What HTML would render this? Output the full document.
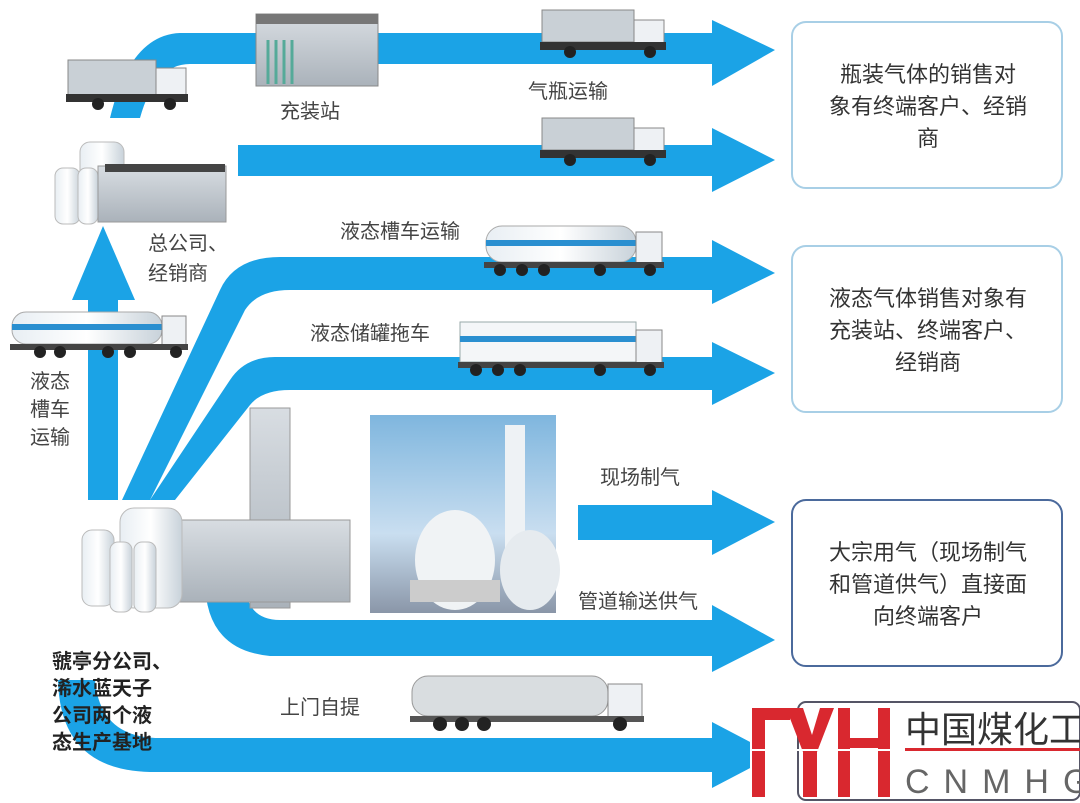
<!DOCTYPE html>
<html><head><meta charset="utf-8"><style>
body{margin:0;width:1080px;height:803px;overflow:hidden;background:#fff;font-family:"Liberation Sans","Noto Sans CJK SC",sans-serif}
svg{display:block}
text{font-family:"Liberation Sans","Noto Sans CJK SC",sans-serif}
</style></head><body>
<svg width="1080" height="803" viewBox="0 0 1080 803">
<defs>
<linearGradient id="sky" x1="0" y1="0" x2="0" y2="1"><stop offset="0" stop-color="#7fb6de"/><stop offset="0.6" stop-color="#c9def0"/><stop offset="1" stop-color="#8a96a8"/></linearGradient>
<linearGradient id="tank" x1="0" y1="0" x2="1" y2="0"><stop offset="0" stop-color="#e8eef3"/><stop offset="0.5" stop-color="#fff"/><stop offset="1" stop-color="#c8d2da"/></linearGradient>
<linearGradient id="bld" x1="0" y1="0" x2="0" y2="1"><stop offset="0" stop-color="#d8dde2"/><stop offset="1" stop-color="#aab2ba"/></linearGradient>
</defs>
<g fill="#1ba3e6">
<path d="M110 118 L140 118 Q155 64 190 64 L712 64 L712 20 L775 50 L712 86 L712 33 L180 33 Q130 35 110 118Z"/>
<path d="M238 145 L712 145 L712 128 L775 160 L712 192 L712 176 L238 176Z"/>
<path d="M122 500 L150 500 L245 310 Q258 290 290 290 L712 290 L712 240 L775 273 L712 304 L712 257 L280 257 Q235 257 220 290Z"/>
<path d="M150 500 L175 500 L250 405 Q262 390 290 390 L712 390 L712 342 L775 373 L712 405 L712 357 L275 357 Q245 357 230 380Z"/>
<path d="M88 500 L118 500 L118 300 L135 300 L103 226 L72 300 L88 300Z"/>
<path d="M578 505 L712 505 L712 490 L775 522 L712 555 L712 540 L578 540Z"/>
<path d="M205 580 L245 580 Q245 620 280 620 L712 620 L712 605 L775 640 L712 672 L712 656 L270 656 Q205 650 205 580Z"/>
<path d="M58 680 L95 680 Q100 738 160 738 L712 738 L712 722 L775 755 L712 788 L712 772 L150 772 Q60 770 58 680Z"/>
</g>
<rect x="792" y="22" width="270" height="166" rx="14" fill="#fff" stroke="#a8cfe6" stroke-width="2"/>
<rect x="792" y="246" width="270" height="166" rx="14" fill="#fff" stroke="#a8cfe6" stroke-width="2"/>
<rect x="792" y="500" width="270" height="166" rx="14" fill="#fff" stroke="#4b6a9c" stroke-width="2"/>
<g font-size="22" fill="#333" text-anchor="middle">
<text x="928" y="82">瓶装气体的销售对</text><text x="928" y="114">象有终端客户、经销</text><text x="928" y="146">商</text>
<text x="928" y="306">液态气体销售对象有</text><text x="928" y="338">充装站、终端客户、</text><text x="928" y="370">经销商</text>
<text x="928" y="560">大宗用气（现场制气</text><text x="928" y="592">和管道供气）直接面</text><text x="928" y="624">向终端客户</text>
</g>
<rect x="256" y="14" width="122" height="72" fill="url(#bld)" stroke="#888"/>
<rect x="256" y="14" width="122" height="10" fill="#777"/>
<g stroke="#5a9" stroke-width="3"><line x1="268" y1="40" x2="268" y2="84"/><line x1="276" y1="40" x2="276" y2="84"/><line x1="284" y1="40" x2="284" y2="84"/><line x1="292" y1="40" x2="292" y2="84"/></g>
<g>
<rect x="68" y="60" width="88" height="36" fill="#c9d0d6" stroke="#888"/><rect x="156" y="68" width="30" height="30" fill="#eef1f4" stroke="#888"/><rect x="66" y="94" width="122" height="8" fill="#333"/>
<circle cx="98" cy="104" r="6" fill="#222"/><circle cx="170" cy="104" r="6" fill="#222"/>
</g>
<g>
<rect x="542" y="10" width="92" height="32" fill="#c9d0d6" stroke="#888"/><rect x="634" y="20" width="30" height="28" fill="#eef1f4" stroke="#888"/><rect x="540" y="42" width="126" height="8" fill="#333"/>
<circle cx="570" cy="52" r="6" fill="#222"/><circle cx="650" cy="52" r="6" fill="#222"/>
</g>
<g>
<rect x="542" y="118" width="92" height="32" fill="#c9d0d6" stroke="#888"/><rect x="634" y="128" width="30" height="28" fill="#eef1f4" stroke="#888"/><rect x="540" y="150" width="126" height="8" fill="#333"/>
<circle cx="570" cy="160" r="6" fill="#222"/><circle cx="650" cy="160" r="6" fill="#222"/>
</g>
<rect x="80" y="142" width="44" height="40" rx="10" fill="url(#tank)" stroke="#bbb"/>
<rect x="55" y="168" width="25" height="56" rx="8" fill="url(#tank)" stroke="#bbb"/><rect x="78" y="168" width="20" height="56" rx="8" fill="url(#tank)" stroke="#bbb"/>
<rect x="98" y="166" width="128" height="56" fill="url(#bld)" stroke="#999"/><rect x="105" y="164" width="120" height="8" fill="#444"/>
<g>
<rect x="12" y="312" width="150" height="32" rx="14" fill="url(#tank)" stroke="#aaa"/><rect x="12" y="324" width="150" height="6" fill="#2a8fd0"/>
<rect x="162" y="316" width="24" height="30" fill="#eef1f4" stroke="#888"/><rect x="10" y="344" width="178" height="6" fill="#444"/>
<circle cx="40" cy="352" r="6" fill="#222"/><circle cx="60" cy="352" r="6" fill="#222"/><circle cx="108" cy="352" r="6" fill="#222"/><circle cx="130" cy="352" r="6" fill="#222"/><circle cx="176" cy="352" r="6" fill="#222"/>
</g>
<g>
<rect x="486" y="226" width="150" height="36" rx="16" fill="url(#tank)" stroke="#aaa"/><rect x="486" y="240" width="150" height="6" fill="#2a8fd0"/>
<rect x="636" y="232" width="26" height="34" fill="#eef1f4" stroke="#888"/><rect x="484" y="262" width="180" height="6" fill="#444"/>
<circle cx="500" cy="270" r="6" fill="#222"/><circle cx="522" cy="270" r="6" fill="#222"/><circle cx="544" cy="270" r="6" fill="#222"/><circle cx="600" cy="270" r="6" fill="#222"/><circle cx="650" cy="270" r="6" fill="#222"/>
</g>
<g>
<rect x="460" y="322" width="176" height="40" fill="#f4f6f8" stroke="#9aa"/><rect x="460" y="336" width="176" height="6" fill="#2a8fd0"/>
<rect x="636" y="330" width="26" height="34" fill="#eef1f4" stroke="#888"/><rect x="458" y="362" width="206" height="6" fill="#444"/>
<circle cx="476" cy="370" r="6" fill="#222"/><circle cx="498" cy="370" r="6" fill="#222"/><circle cx="520" cy="370" r="6" fill="#222"/><circle cx="600" cy="370" r="6" fill="#222"/><circle cx="650" cy="370" r="6" fill="#222"/>
</g>
<rect x="250" y="408" width="40" height="200" fill="url(#bld)" stroke="#999"/>
<rect x="180" y="520" width="170" height="82" fill="url(#bld)" stroke="#999"/>
<rect x="120" y="508" width="62" height="100" rx="14" fill="url(#tank)" stroke="#bbb"/>
<rect x="82" y="530" width="32" height="76" rx="10" fill="url(#tank)" stroke="#bbb"/>
<rect x="110" y="542" width="22" height="70" rx="8" fill="url(#tank)" stroke="#bbb"/><rect x="134" y="542" width="22" height="70" rx="8" fill="url(#tank)" stroke="#bbb"/>
<rect x="370" y="415" width="186" height="198" fill="url(#sky)"/>
<rect x="505" y="425" width="20" height="140" fill="#eef2f5"/>
<ellipse cx="455" cy="560" rx="40" ry="50" fill="#f0f3f5"/><ellipse cx="530" cy="570" rx="30" ry="40" fill="#e6ebef"/>
<rect x="410" y="580" width="90" height="22" fill="#ccc"/>
<rect x="412" y="676" width="196" height="40" rx="16" fill="#d9dde0" stroke="#999"/>
<rect x="608" y="684" width="34" height="36" fill="#eef1f4" stroke="#888"/><rect x="410" y="716" width="234" height="6" fill="#555"/>
<circle cx="440" cy="724" r="7" fill="#222"/><circle cx="462" cy="724" r="7" fill="#222"/><circle cx="484" cy="724" r="7" fill="#222"/><circle cx="620" cy="724" r="7" fill="#222"/>
<g font-size="20" fill="#444">
<text x="280" y="118">充装站</text>
<text x="528" y="98">气瓶运输</text>
<text x="148" y="250">总公司、</text><text x="148" y="280">经销商</text>
<text x="340" y="238">液态槽车运输</text>
<text x="310" y="340">液态储罐拖车</text>
<text x="30" y="388">液态</text><text x="30" y="416">槽车</text><text x="30" y="444">运输</text>
<text x="600" y="484">现场制气</text>
<text x="578" y="608">管道输送供气</text>
<text x="280" y="714">上门自提</text>
</g>
<g font-size="20" fill="#222" font-weight="bold">
<text x="52" y="668">虢亭分公司、</text><text x="52" y="695">浠水蓝天子</text><text x="52" y="722">公司两个液</text><text x="52" y="749">态生产基地</text>
</g>
<rect x="750" y="700" width="330" height="103" fill="#fff"/>
<rect x="798" y="702" width="282" height="98" rx="8" fill="none" stroke="#556" stroke-width="2"/>
<g fill="#d9282f">
<rect x="752" y="708" width="13" height="89"/><rect x="752" y="708" width="38" height="12"/>
<path d="M786 708 L803 708 L812 735 L820 708 L834 708 L817 752 L817 797 L803 797 L803 752Z"/>
<rect x="838" y="708" width="12" height="89"/><rect x="850" y="738" width="30" height="10"/><rect x="878" y="708" width="12" height="89"/>
</g>
<rect x="752" y="749" width="140" height="2" fill="#fff"/>
<text x="905" y="742" font-size="36" fill="#333">中国煤化工</text>
<rect x="905" y="748" width="175" height="3" fill="#d9282f"/>
<text x="905" y="793" font-size="34" fill="#666" letter-spacing="14">CNMHG</text>
</svg>
</body></html>
